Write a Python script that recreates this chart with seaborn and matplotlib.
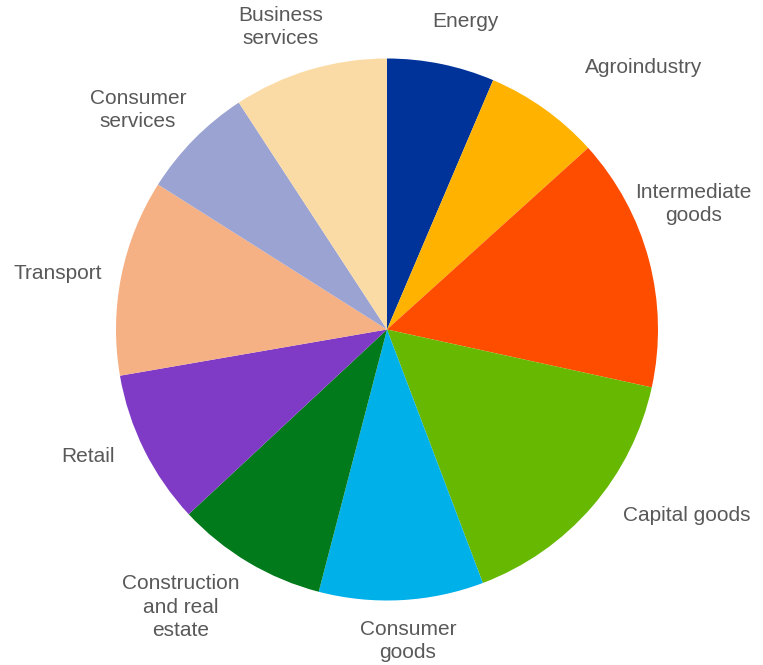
import matplotlib
matplotlib.use("Agg")
import matplotlib.pyplot as plt
import seaborn as sns

# Sector shares (%), listed clockwise from 12 o'clock
sectors = ["Energy", "Agroindustry", "Intermediate\ngoods", "Capital goods",
           "Consumer\ngoods", "Construction\nand real\nestate", "Retail",
           "Transport", "Consumer\nservices", "Business\nservices"]
shares = [6.4, 6.9, 15.1, 15.8, 9.8, 9.0, 9.2, 11.7, 6.8, 9.2]
colors = ["#003399", "#FFB300", "#FF4D00", "#66B800", "#00B0E8",
          "#007A1A", "#7F3AC6", "#F5B084", "#9BA3D2", "#FBDBA5"]

# Label anchor points, in units of the pie radius
label_xy = [(0.288, 1.138), (0.948, 0.965), (1.130, 0.463), (1.107, -0.685),
            (0.077, -1.149), (-0.760, -1.024), (-1.103, -0.467),
            (-1.214, 0.208), (-0.919, 0.810), (-0.391, 1.117)]

sns.set_theme(style="white")
plt.rcParams["font.family"] = ["Liberation Sans", "DejaVu Sans"]

W, H = 763, 665
fig = plt.figure(figsize=(W / 100, H / 100), dpi=100)
cx, cy, r = 387, 329.5, 271
ax = fig.add_axes([(cx - r) / W, (H - cy - r) / H, 2 * r / W, 2 * r / H])

ax.pie(shares, colors=colors, startangle=90, counterclock=False, radius=1,
       wedgeprops=dict(linewidth=0))
ax.set_xlim(-1, 1)
ax.set_ylim(-1, 1)
ax.set_aspect("equal")
ax.axis("off")

for name, (x, y) in zip(sectors, label_xy):
    ax.text(x, y, name, ha="center", va="center", fontsize=15,
            color="#595959", linespacing=1.3, clip_on=False)

fig.savefig("out.png", dpi=100, facecolor="white")
